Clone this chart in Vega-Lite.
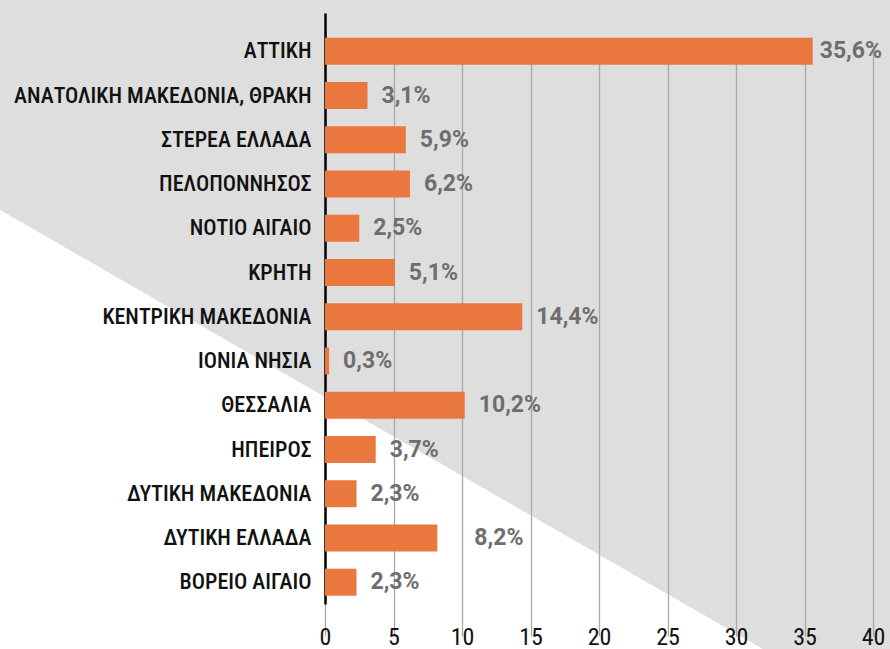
{
  "$schema": "https://vega.github.io/schema/vega-lite/v6.json",
  "width": 890,
  "height": 649,
  "padding": 0,
  "autosize": {"type": "none"},
  "background": "#dedede",
  "config": {
    "view": {
      "stroke": null,
      "fill": {
        "gradient": "linear",
        "x1": 0.5526, "y1": 0.5048, "x2": 0.3048, "y2": 0.8188,
        "stops": [
          {"offset": 0, "color": "#dedede"},
          {"offset": 0.5, "color": "#dedede"},
          {"offset": 0.5, "color": "#ffffff"},
          {"offset": 1, "color": "#ffffff"}
        ]
      }
    },
    "locale": {"number": {"decimal": ",", "thousands": ".", "grouping": [3], "currency": ["", "%"]}}
  },
  "data": {
    "values": [
      {"region": "ΑΤΤΙΚΗ", "share": 35.6},
      {"region": "ΑΝΑΤΟΛΙΚΗ ΜΑΚΕΔΟΝΙΑ, ΘΡΑΚΗ", "share": 3.1},
      {"region": "ΣΤΕΡΕΑ ΕΛΛΑΔΑ", "share": 5.9},
      {"region": "ΠΕΛΟΠΟΝΝΗΣΟΣ", "share": 6.2},
      {"region": "ΝΟΤΙΟ ΑΙΓΑΙΟ", "share": 2.5},
      {"region": "ΚΡΗΤΗ", "share": 5.1},
      {"region": "ΚΕΝΤΡΙΚΗ ΜΑΚΕΔΟΝΙΑ", "share": 14.4},
      {"region": "ΙΟΝΙΑ ΝΗΣΙΑ", "share": 0.3},
      {"region": "ΘΕΣΣΑΛΙΑ", "share": 10.2},
      {"region": "ΗΠΕΙΡΟΣ", "share": 3.7},
      {"region": "ΔΥΤΙΚΗ ΜΑΚΕΔΟΝΙΑ", "share": 2.3},
      {"region": "ΔΥΤΙΚΗ ΕΛΛΑΔΑ", "share": 8.2},
      {"region": "ΒΟΡΕΙΟ ΑΙΓΑΙΟ", "share": 2.3}
    ]
  },
  "encoding": {
    "y": {
      "field": "region",
      "type": "nominal",
      "sort": null,
      "scale": {"range": [13, 604], "paddingInner": 0.39, "paddingOuter": 0.3745, "align": 0.75},
      "axis": {
        "title": null,
        "offset": -325,
        "domainColor": "#000000",
        "domainWidth": 2.5,
        "ticks": false,
        "labelPadding": 14,
        "labelFont": "Roboto Condensed, Liberation Sans Narrow, DejaVu Sans Condensed, Roboto",
        "labelFontSize": 22,
        "labelFontWeight": 500,
        "labelColor": "#111111",
        "labelLimit": 400,
        "grid": false
      }
    },
    "x": {
      "field": "share",
      "type": "quantitative",
      "scale": {"domain": [0, 40], "range": [325, 873], "nice": false},
      "axis": {
        "title": null,
        "values": [0, 5, 10, 15, 20, 25, 30, 35, 40],
        "offset": -12,
        "domain": false,
        "ticks": false,
        "tickSize": 0,
        "labelPadding": 0,
        "labelBaseline": "middle",
        "labelFont": "Roboto Condensed, Liberation Sans Narrow, DejaVu Sans Condensed, Roboto",
        "labelFontSize": 24,
        "labelColor": "#111111",
        "labelFlush": false,
        "grid": true,
        "gridColor": "#a8a8a8",
        "gridWidth": 1.3
      }
    }
  },
  "layer": [
    {"mark": {"type": "bar", "color": "#EA773D"}},
    {
      "transform": [{"filter": "datum.region === 'ΑΤΤΙΚΗ'"}],
      "mark": {"type": "text", "align": "left", "baseline": "middle", "dx": 7, "font": "Roboto", "fontWeight": "bold", "fontSize": 23, "color": "#6e6e6e"},
      "encoding": {"text": {"field": "share", "format": "$.1f"}}
    },
    {
      "transform": [{"filter": "datum.region === 'ΔΥΤΙΚΗ ΕΛΛΑΔΑ'"}],
      "mark": {"type": "text", "align": "left", "baseline": "middle", "dx": 37, "font": "Roboto", "fontWeight": "bold", "fontSize": 23, "color": "#6e6e6e"},
      "encoding": {"text": {"field": "share", "format": "$.1f"}}
    },
    {
      "transform": [{"filter": "datum.region !== 'ΑΤΤΙΚΗ' && datum.region !== 'ΔΥΤΙΚΗ ΕΛΛΑΔΑ'"}],
      "mark": {"type": "text", "align": "left", "baseline": "middle", "dx": 14, "font": "Roboto", "fontWeight": "bold", "fontSize": 23, "color": "#6e6e6e"},
      "encoding": {"text": {"field": "share", "format": "$.1f"}}
    }
  ]
}
